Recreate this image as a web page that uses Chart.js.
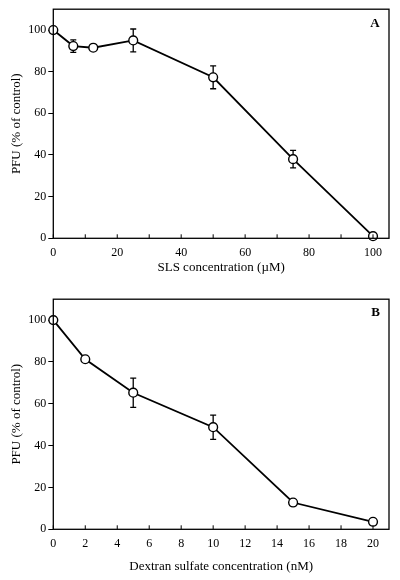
<!DOCTYPE html>
<html>
<head>
<meta charset="utf-8">
<script src="https://cdn.jsdelivr.net/npm/chart.js@4"></script>
<style>
  html, body { margin: 0; padding: 0; background: #fff; }
  .panel { width: 400px; height: 290px; position: relative; }
</style>
</head>
<body>
<div class="panel"><canvas id="chartA"></canvas></div>
<div class="panel"><canvas id="chartB"></canvas></div>
<script>
// Panel A: SLS
const slsConc = [0, 6.25, 12.5, 25, 50, 75, 100];
const slsPfu = [100, 92.3, 91.5, 95, 77.3, 38, 1];
const slsErr = [0, 3, 0, 5.5, 5.5, 4.2, 0];
const slsTicks = [0, 10, 20, 30, 40, 50, 60, 70, 80, 90, 100];

// Panel B: dextran sulfate
const dexConc = [0, 2, 5, 10, 15, 20];
const dexPfu = [100, 81.3, 65.3, 48.8, 12.8, 3.6];
const dexErr = [0, 0, 7, 5.8, 0, 0];
const dexTicks = [0, 2, 4, 6, 8, 10, 12, 14, 16, 18, 20];

const pfuTicks = [0, 20, 40, 60, 80, 100];

const SERIF = '"Liberation Serif", "DejaVu Serif", serif';

// box, inward x ticks, error bars, panel letter
const framePlugin = {
  id: 'frame',
  beforeDatasetsDraw(chart) {
    const ctx = chart.ctx;
    const x = chart.scales.x, y = chart.scales.y;
    const errs = chart.options.plugins.frame.errors;
    const pts = chart.data.datasets[0].data;
    ctx.save();
    ctx.strokeStyle = '#000';
    ctx.lineWidth = 1.3;
    pts.forEach((p, i) => {
      if (!errs[i]) return;
      const px = x.getPixelForValue(p.x);
      const top = y.getPixelForValue(p.y + errs[i]);
      const bot = y.getPixelForValue(p.y - errs[i]);
      ctx.beginPath();
      ctx.moveTo(px, top); ctx.lineTo(px, bot);
      ctx.moveTo(px - 3, top); ctx.lineTo(px + 3, top);
      ctx.moveTo(px - 3, bot); ctx.lineTo(px + 3, bot);
      ctx.stroke();
    });
    ctx.restore();
  },
  afterDraw(chart) {
    const ctx = chart.ctx;
    const a = chart.chartArea;
    const x = chart.scales.x;
    ctx.save();
    ctx.strokeStyle = '#000';
    ctx.lineWidth = 1.3;
    ctx.strokeRect(a.left, a.top, a.right - a.left, a.bottom - a.top);
    ctx.lineWidth = 1;
    chart.options.plugins.frame.xTicks.forEach(v => {
      const px = x.getPixelForValue(v);
      ctx.beginPath();
      ctx.moveTo(px, a.bottom);
      ctx.lineTo(px, a.bottom - 4);
      ctx.stroke();
    });
    ctx.fillStyle = '#000';
    ctx.font = 'bold 13px ' + SERIF;
    ctx.textAlign = 'center';
    ctx.textBaseline = 'middle';
    const lp = chart.options.plugins.frame.letterPos;
    ctx.fillText(chart.options.plugins.frame.letter, lp[0], lp[1]);
    ctx.restore();
  }
};

function makeChart(id, cfg) {
  const points = cfg.xs.map((v, i) => ({ x: v, y: cfg.ys[i] }));
  return new Chart(document.getElementById(id), {
    type: 'line',
    data: {
      datasets: [{
        data: points,
        borderColor: '#000',
        borderWidth: 1.8,
        tension: 0,
        clip: false,
        pointRadius: 4.4,
        pointBackgroundColor: '#fff',
        pointBorderColor: '#000',
        pointBorderWidth: 1.4
      }]
    },
    options: {
      responsive: true,
      maintainAspectRatio: false,
      animation: false,
      layout: { padding: { top: cfg.top, right: 11, left: 0, bottom: 0 } },
      plugins: {
        legend: { display: false },
        tooltip: { enabled: false },
        frame: { errors: cfg.errs, xTicks: cfg.xTicks, letter: cfg.letter, letterPos: cfg.letterPos }
      },
      scales: {
        x: {
          type: 'linear',
          min: 0,
          max: cfg.xMax,
          afterBuildTicks: s => { s.ticks = cfg.xTicks.map(v => ({ value: v })); },
          afterFit: s => { s.height = cfg.xHeight; },
          grid: { display: false, drawTicks: false },
          border: { display: false },
          ticks: {
            color: '#000',
            font: { family: SERIF, size: 12 },
            padding: 7,
            maxRotation: 0,
            autoSkip: false,
            callback: v => (v % cfg.labelStep === 0 ? String(v) : '')
          },
          title: {
            display: true,
            text: cfg.xTitle,
            color: '#000',
            font: { family: SERIF, size: 13 },
            padding: { top: 0, bottom: cfg.titlePad }
          }
        },
        y: {
          min: 0,
          max: 110,
          afterBuildTicks: s => { s.ticks = pfuTicks.map(v => ({ value: v })); },
          afterFit: s => { s.width = 53.3; },
          grid: { drawOnChartArea: false, drawTicks: true, tickLength: 5, color: '#000' },
          border: { display: false },
          ticks: {
            color: '#000',
            font: { family: SERIF, size: 12 },
            padding: 2
          },
          title: {
            display: true,
            text: 'PFU (% of control)',
            color: '#000',
            font: { family: SERIF, size: 13 },
            padding: { top: 9, bottom: 0 }
          }
        }
      }
    },
    plugins: [framePlugin]
  });
}

makeChart('chartA', {
  xs: slsConc, ys: slsPfu, errs: slsErr, xTicks: slsTicks, xMax: 105, labelStep: 20,
  xTitle: 'SLS concentration (\u00b5M)', top: 9, xHeight: 51.7, titlePad: 14.2,
  letter: 'A', letterPos: [375, 23.3]
});

makeChart('chartB', {
  xs: dexConc, ys: dexPfu, errs: dexErr, xTicks: dexTicks, xMax: 21, labelStep: 2,
  xTitle: 'Dextran sulfate concentration (nM)', top: 8.3, xHeight: 50.7, titlePad: 5.5,
  letter: 'B', letterPos: [375.7, 22.7]
});
</script>
</body>
</html>
